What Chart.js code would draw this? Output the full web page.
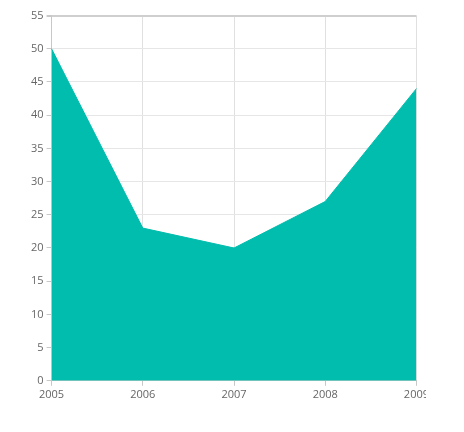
<!DOCTYPE html>
<html>
<head>
<meta charset="utf-8">
<script src="https://cdn.jsdelivr.net/npm/chart.js@4"></script>
<style>
  body { margin: 0; background: #fff; }
  #clip { position: absolute; left: 0; top: 6px; width: 426px; height: 397px; overflow: hidden; }
  #wrap { position: relative; width: 431px; height: 397px; }
</style>
</head>
<body>
<div id="clip"><div id="wrap"><canvas id="chart"></canvas></div></div>
<script>
const years = ["2005", "2006", "2007", "2008", "2009"];
const values = [50, 23, 20, 27, 44];
const yTicks = [0, 5, 10, 15, 20, 25, 30, 35, 40, 45, 50, 55];

const ctx = document.getElementById("chart").getContext("2d");

new Chart(ctx, {
  type: "line",
  data: {
    labels: years,
    datasets: [{
      data: values,
      borderColor: "#00bdae",
      backgroundColor: "#00bdae",
      borderWidth: 1,
      fill: "origin",
      tension: 0,
      pointRadius: 0
    }]
  },
  options: {
    responsive: true,
    maintainAspectRatio: false,
    animation: false,
    layout: { padding: { left: 28, top: 6, right: 0, bottom: 0 } },
    plugins: {
      legend: { display: false },
      tooltip: { enabled: false }
    },
    scales: {
      x: {
        offset: false,
        grid: { color: "#e0e0e0", tickLength: 5, tickColor: "#c8c8c8" },
        border: { color: "#c8c8c8", width: 1 },
        ticks: { color: "#666", font: { family: "Open Sans", size: 11 }, maxRotation: 0, padding: 2 }
      },
      y: {
        min: 0,
        max: 55,
        afterBuildTicks: axis => { axis.ticks = yTicks.map(v => ({ value: v })); },
        grid: {
          color: ctx => ctx.tick && ctx.tick.value === 55 ? "#cfcfcf" : "#e6e6e6",
          lineWidth: ctx => ctx.tick && ctx.tick.value === 55 ? 2 : 1,
          tickLength: 5,
          tickColor: "#c8c8c8"
        },
        border: { color: "#c8c8c8", width: 1 },
        ticks: { color: "#666", font: { family: "Open Sans", size: 11 }, padding: 3 }
      }
    }
  }
});
</script>
</body>
</html>
